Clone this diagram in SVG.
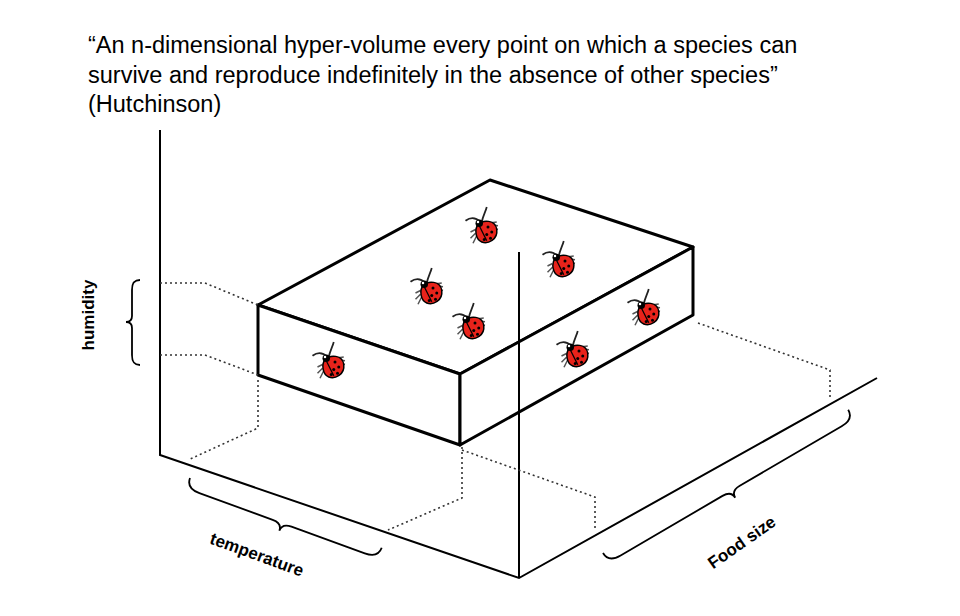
<svg xmlns="http://www.w3.org/2000/svg" width="960" height="616" viewBox="0 0 960 616">
<style>
.ax{stroke:#000;stroke-width:2;fill:none}
.bx{stroke:#000;stroke-width:3;fill:#fff;stroke-linejoin:round}
.dt{stroke:#333;stroke-width:1.6;fill:none;stroke-dasharray:2 3}
.br{stroke:#000;stroke-width:1.8;fill:none}
.t{font-family:"Liberation Sans",Arial,sans-serif;fill:#000}
</style>
<defs>
<g id="bug">
<path d="M-2,-8 C-6,-12 -10,-12 -14,-9 M-1,-8 C0,-13 2,-16 3,-20" stroke="#222" stroke-width="1.4" fill="none"/>
<path d="M-6,-2 L-10,0 M-6,1 L-10,5 M-5,3 L-8,9 M4,-7 L11,-8 M5,-6 L12,-5 M6,-4 L12,-2" stroke="#555" stroke-width="1.2" fill="none"/>
<path d="M-4,-6 C0,-10 10,-10 11,-2 C12,6 4,10 -1,8 C-6,6 -7,-2 -4,-6 Z" fill="#e8231b" stroke="#000" stroke-width="1.2"/>
<circle cx="-3" cy="-7" r="3" fill="#000"/>
<circle cx="-4" cy="-8" r="1" fill="#fff"/>
<path d="M-3,-5 L3,7" stroke="#000" stroke-width="1"/>
<circle cx="4" cy="-4" r="1.2" fill="#000"/><circle cx="7" cy="0" r="1.2" fill="#000"/><circle cx="3" cy="2" r="1.2" fill="#000"/><circle cx="6" cy="5" r="1.2" fill="#000"/><circle cx="1" cy="6" r="1.2" fill="#000"/>
</g>
</defs>
<rect width="960" height="616" fill="#fff"/>
<g id="title" class="t" font-size="23.5">
<text x="88" y="53">“An n-dimensional hyper-volume every point on which a species can</text>
<text x="88" y="83">survive and reproduce indefinitely in the absence of other species”</text>
<text x="88" y="112">(Hutchinson)</text>
</g>
<g id="box">
<path class="bx" d="M258,305 L490,180 L693,247 L460,374 Z"/>
<path class="bx" d="M258,305 L460,374 L460,445 L258,375 Z"/>
<path class="bx" d="M460,374 L693,247 L693,315 L460,445 Z"/>
</g>
<g id="connectors">
<path class="ax" d="M160,130 L160,455 L519,578 L877,378 M519,252 L519,578"/>
<path class="dt" d="M160,283 L205,283 L258,305 M160,355 L205,355 L258,375 M258,380 L258,428 L188,460 M462,447 L462,498 L388,530 M698,323 L830,370 L830,400 M462,450 L595,497 L595,530"/>
</g>
<g id="bugs">
<use href="#bug" transform="translate(483,232) scale(1.25)"/>
<use href="#bug" transform="translate(560,266) scale(1.25)"/>
<use href="#bug" transform="translate(428,293) scale(1.25)"/>
<use href="#bug" transform="translate(470,328) scale(1.25)"/>
<use href="#bug" transform="translate(645,314) scale(1.25)"/>
<use href="#bug" transform="translate(330,367) scale(1.25)"/>
<use href="#bug" transform="translate(574,356) scale(1.25)"/>
</g>
<g id="humidity">
<path class="br" transform="translate(140,280) rotate(90)" d="M0,0 C0,6 3,8 10,8 L36,8 C40,8 42,10 42,14 C42,10 44,8 48,8 L75,8 C82,8 85,6 85,0"/>
<text class="t" font-size="17" font-weight="bold" text-anchor="middle" transform="translate(94,315) rotate(-90)">humidity</text>
</g>
<g id="temperature">
<path class="br" transform="translate(190,478) rotate(20)" d="M0,0 C0,8 5,11 14,11 L92,11 C98,11 102,13 102,19 C102,13 106,11 112,11 L190,11 C199,11 204,8 204,0"/>
<text class="t" font-size="17" font-weight="bold" text-anchor="middle" transform="translate(255,560) rotate(20)">temperature</text>
</g>
<g id="foodsize">
<path class="br" transform="translate(603,553) rotate(-30.3)" d="M0,0 C0,8 5,11 14,11 L132,11 C138,11 142,13 142,19 C142,13 146,11 152,11 L270,11 C279,11 284,8 284,0"/>
<text class="t" font-size="17" font-weight="bold" text-anchor="middle" transform="translate(745,547) rotate(-35)">Food size</text>
</g>
</svg>
